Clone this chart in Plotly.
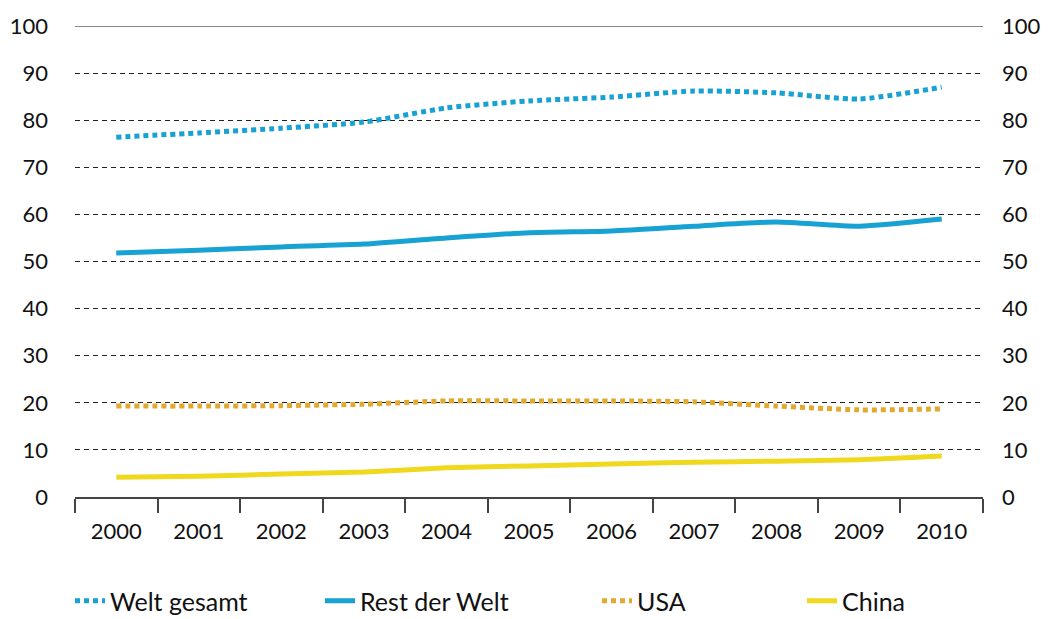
import plotly.graph_objects as go

years = ["2000", "2001", "2002", "2003", "2004", "2005", "2006", "2007", "2008", "2009", "2010"]
welt_gesamt = [76.4, 77.3, 78.3, 79.6, 82.6, 84.1, 84.9, 86.2, 85.8, 84.5, 87.0]
rest_der_welt = [51.8, 52.4, 53.1, 53.7, 55.0, 56.1, 56.5, 57.5, 58.4, 57.5, 59.0]
usa = [19.3, 19.3, 19.4, 19.7, 20.4, 20.4, 20.4, 20.2, 19.3, 18.5, 18.7]
china = [4.2, 4.4, 4.9, 5.3, 6.2, 6.6, 7.0, 7.4, 7.6, 7.9, 8.7]
y_ticks = [0, 10, 20, 30, 40, 50, 60, 70, 80, 90, 100]

BLUE = "#17a2d3"
ORANGE = "#e1a92f"
YELLOW = "#f0d81f"
FONT = "Lato"
# page body has an 8px margin, so the figure is 8px smaller on each axis
W, H = 1040, 611

fig = go.Figure()
series = [
    ("Welt gesamt", welt_gesamt, BLUE, "5px,4px", "legend", 62),
    ("Rest der Welt", rest_der_welt, BLUE, "solid", "legend2", 312),
    ("USA", usa, ORANGE, "5px,4px", "legend3", 589),
    ("China", china, YELLOW, "solid", "legend4", 794),
]
legends = {}
for name, vals, col, dash, leg, lx in series:
    fig.add_trace(go.Scatter(
        x=years, y=vals, name=name, mode="lines", legend=leg,
        line=dict(color=col, width=5, dash=dash, shape="spline", smoothing=0.6),
    ))
    legends[leg] = dict(
        orientation="h", xref="container", yref="container",
        x=lx / W, xanchor="left", y=18 / H, yanchor="middle",
        font=dict(size=25, family=FONT, color="#111"), itemwidth=30,
        bgcolor="rgba(0,0,0,0)",
    )

# invisible trace for right axis
fig.add_trace(go.Scatter(x=years, y=china, yaxis="y2", showlegend=False,
                         mode="lines", line=dict(width=0), hoverinfo="skip"))

fig.update_layout(
    width=W, height=H,
    margin=dict(l=67, r=65, t=18, b=122),
    paper_bgcolor="white", plot_bgcolor="white",
    font=dict(family=FONT, size=22, color="#111"),
    xaxis=dict(
        type="category", range=[-0.5, 10.5], tickson="boundaries",
        ticks="outside", ticklen=14, tickcolor="#444", tickwidth=1.5,
        showline=True, linecolor="#444", linewidth=1.5,
        showgrid=False, zeroline=False, automargin=False,
        ticklabelstandoff=14,
        tickfont=dict(size=22, family=FONT),
    ),
    yaxis=dict(
        range=[0, 100], tickvals=y_ticks, showgrid=True,
        gridcolor="#222", griddash="5px,4px", gridwidth=1,
        zeroline=False, showline=False, ticks="", automargin=False,
        ticklabelstandoff=26, tickfont=dict(size=22, family=FONT),
    ),
    yaxis2=dict(
        range=[0, 100], tickvals=y_ticks, overlaying="y", side="right",
        showgrid=False, zeroline=False, showline=False, ticks="", automargin=False,
        ticklabelstandoff=18, tickfont=dict(size=22, family=FONT),
    ),
    showlegend=True,
    shapes=[dict(type="line", xref="paper", yref="y", x0=0, x1=1, y0=100, y1=100,
                 line=dict(color="#111", width=1.2))],
    **legends,
)

fig.write_html("out.html")
